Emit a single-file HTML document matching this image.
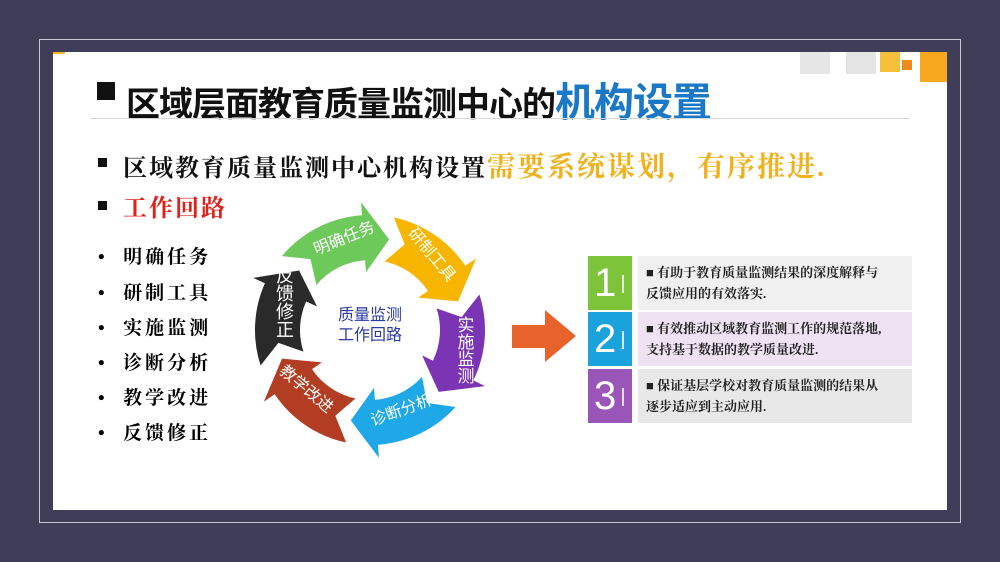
<!DOCTYPE html>
<html><head><meta charset="utf-8"><style>
body{margin:0;width:1000px;height:562px;background:#3f3d58;position:relative;overflow:hidden;font-family:"Liberation Sans","Noto Sans CJK SC",sans-serif}
.frame{position:absolute;left:39px;top:39px;width:922px;height:484px;border:1px solid #c8c8d4;box-sizing:border-box}
.slide{position:absolute;left:53px;top:52px;width:894px;height:458px;background:#fff}
.a{position:absolute;white-space:nowrap}
.serif{font-family:"Liberation Serif","Noto Serif CJK SC",serif;font-weight:bold}
.li{position:absolute;left:98px;font-size:19px;letter-spacing:3px}
.num{position:absolute;left:588px;width:44px;height:54px;color:#fff;font-size:40px;line-height:54px;text-indent:6px}
.num:after{content:"";position:absolute;left:34px;top:19px;width:2px;height:18px;background:#fff;opacity:.8}
.tb{position:absolute;left:638px;width:274px;height:54px;font-size:13px;line-height:21px;padding:6px 0 0 8px;box-sizing:border-box;color:#222}
</style></head><body>
<div class="frame"></div>
<div class="slide"></div>
<div class="a" style="left:800px;top:52px;width:30px;height:22px;background:#e6e6e6"></div>
<div class="a" style="left:846px;top:52px;width:30px;height:22px;background:#e4e4e4"></div>
<div class="a" style="left:880px;top:52px;width:20px;height:20px;background:#f7c03a"></div>
<div class="a" style="left:902px;top:60px;width:10px;height:10px;background:#f08a1c"></div>
<div class="a" style="left:920px;top:52px;width:27px;height:30px;background:#f7a81c"></div>
<div class="a" style="left:53px;top:52px;width:12px;height:2px;background:#f2b830"></div>

<div class="a" style="left:97px;top:82px;width:18px;height:18px;background:#111"></div>
<div class="a" style="left:126px;top:70px;font-size:34px;font-weight:bold;color:#111;letter-spacing:-1px">区域层面教育质量监测中心的<span style="color:#1b78c6;font-size:40px">机构设置</span></div>
<div class="a" style="left:90px;top:118px;width:820px;height:1px;background:#d6d6d6"></div>

<div class="a" style="left:98px;top:158px;width:9px;height:9px;background:#111"></div>
<div class="a serif" style="left:123px;top:145px;font-size:24px;letter-spacing:2px;color:#111">区域教育质量监测中心机构设置<span style="color:#f0b21c;font-size:28px">需要系统谋划，有序推进.</span></div>
<div class="a" style="left:98px;top:201px;width:9px;height:9px;background:#111"></div>
<div class="a serif" style="left:123px;top:188px;font-size:24px;letter-spacing:2px;color:#e0201a">工作回路</div>

<div class="li serif" style="top:242px">•&nbsp; 明确任务</div>
<div class="li serif" style="top:278px">•&nbsp; 研制工具</div>
<div class="li serif" style="top:313px">•&nbsp; 实施监测</div>
<div class="li serif" style="top:348px">•&nbsp; 诊断分析</div>
<div class="li serif" style="top:383px">•&nbsp; 教学改进</div>
<div class="li serif" style="top:418px">•&nbsp; 反馈修正</div>

<svg class="a" style="left:0;top:0" width="1000" height="562">
<g id="arrows"></g>
<text x="370" y="320" text-anchor="middle" font-size="16" fill="#2b3aa0" font-family="Liberation Sans,Noto Sans CJK SC,sans-serif">质量监测</text>
<text x="370" y="340" text-anchor="middle" font-size="16" fill="#2b3aa0" font-family="Liberation Sans,Noto Sans CJK SC,sans-serif">工作回路</text>
<g font-size="16" fill="#fff" font-family="Liberation Sans,Noto Sans CJK SC,sans-serif" text-anchor="middle">
<text transform="translate(346,243) rotate(-22)">明确任务</text>
<text transform="translate(428,258) rotate(50)">研制工具</text>
<text x="464" y="316" writing-mode="tb" text-anchor="start" font-size="17">实施监测</text>
<text transform="translate(403,415) rotate(-20)">诊断分析</text>
<text transform="translate(303,393) rotate(40)">教学改进</text>
<text x="284" y="266" writing-mode="tb" text-anchor="start" font-size="18">反馈修正</text>
</g>
<polygon points="512,325 545,325 545,310 576,336 545,362 545,348 512,348" fill="#e8622c"/>
</svg>
<script>
(function(){
var cx=370,cy=330,ri=70,ro=115,hi=58,ho=128;
var segs=[[-50,12,"#6ec95b"],[12,72,"#f7b500"],[72,132,"#7a34b4"],[132,192,"#1ea8e8"],[192,252,"#b33d23"],[252,310,"#2a2a2a"]];
function p(r,a){a=(a-90)*Math.PI/180;return (cx+r*Math.cos(a)).toFixed(1)+","+(cy+r*Math.sin(a)).toFixed(1);}
var g=document.getElementById("arrows"),h="";
segs.forEach(function(s){var a0=s[0],a1=s[1],ah=a1-16,d="M"+p(ro,a0)+" A"+ro+" "+ro+" 0 0 1 "+p(ro,ah)+" L"+p(ho,ah)+" L"+p((ri+ro)/2,a1)+" L"+p(hi,ah)+" L"+p(ri,ah)+" A"+ri+" "+ri+" 0 0 0 "+p(ri,a0)+" L"+p((ri+ro)/2,a0+10)+" Z";h+='<path d="'+d+'" fill="'+s[2]+'"/>';});
g.innerHTML=h;})();
</script>

<div class="num" style="top:256px;background:#7dc43a">1</div>
<div class="num" style="top:312px;background:#1aa2dc">2</div>
<div class="num" style="top:369px;background:#9a55b8">3</div>
<div class="tb serif" style="top:256px;background:#f0f0f0">■ 有助于教育质量监测结果的深度解释与<br>反馈应用的有效落实.</div>
<div class="tb serif" style="top:312px;background:#efe3f3">■ 有效推动区域教育监测工作的规范落地,<br>支持基于数据的教学质量改进.</div>
<div class="tb serif" style="top:369px;background:#e8e8e8">■ 保证基层学校对教育质量监测的结果从<br>逐步适应到主动应用.</div>
</body></html>
